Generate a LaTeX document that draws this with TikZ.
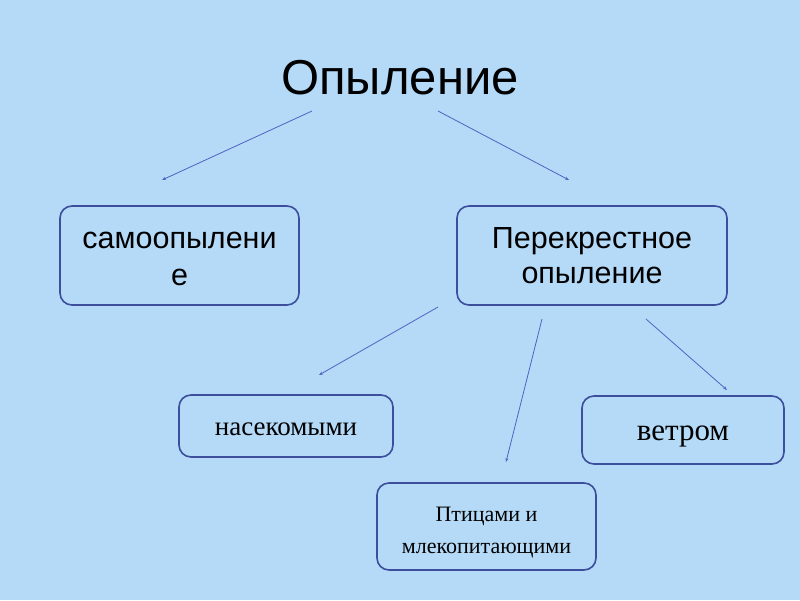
\documentclass[tikz,border=0pt]{standalone}
\usepackage{fontspec}
\setmainfont{Liberation Serif}
\newfontfamily\arialf{Liberation Sans}
\usetikzlibrary{arrows.meta}
\definecolor{bgc}{RGB}{180,218,248}
\definecolor{boxc}{RGB}{60,78,156}
\definecolor{arrc}{RGB}{80,98,192}
\tikzset{
  bx/.style={draw=boxc, line width=1.6pt, rounded corners=12pt, fill=bgc, align=center, inner sep=0pt},
  arr/.style={draw=arrc, line width=0.8pt, -{Stealth[length=4pt,width=3pt]}}
}
\begin{document}
\begin{tikzpicture}[x=1pt,y=-1pt]
\fill[bgc] (0,0) rectangle (800,600);
\useasboundingbox (0,0) rectangle (800,600);
\node[font=\arialf\fontsize{49}{52}\selectfont] (title) at (400,78) {Опыление};
\node[bx, minimum width=239pt, minimum height=99pt, text height=59pt, text depth=0pt, font=\arialf\fontsize{30.5}{37}\selectfont] (self) at (179.5,255.5) {самоопылени\\е};
\node[bx, minimum width=270pt, minimum height=99pt, text height=55pt, text depth=0pt, font=\arialf\fontsize{30.5}{35}\selectfont] (cross) at (592,255.5) {Перекрестное\\опыление};
\node[bx, minimum width=214pt, minimum height=62pt, text height=18pt, text depth=0pt, font=\fontsize{27}{30}\selectfont] (ins) at (286,426) {насекомыми};
\node[bx, minimum width=202pt, minimum height=68pt, text height=20pt, text depth=0pt, font=\fontsize{31}{34}\selectfont] (wind) at (683,430) {ветром};
\node[bx, minimum width=219pt, minimum height=87pt, text height=53pt, text depth=0pt, font=\fontsize{22}{32}\selectfont] (birds) at (486.5,526.5) {Птицами и\\млекопитающими};
\coordinate (a1s) at (312,111); \coordinate (a1e) at (162,180);
\coordinate (a2s) at (438,111); \coordinate (a2e) at (569,180);
\coordinate (a3s) at (438,307); \coordinate (a3e) at (319,375);
\coordinate (a4s) at (542,319); \coordinate (a4e) at (506,462);
\coordinate (a5s) at (646,319); \coordinate (a5e) at (727,390);
\draw[arr] (a1s) -- (a1e);
\draw[arr] (a2s) -- (a2e);
\draw[arr] (a3s) -- (a3e);
\draw[arr] (a4s) -- (a4e);
\draw[arr] (a5s) -- (a5e);
\end{tikzpicture}
\end{document}
